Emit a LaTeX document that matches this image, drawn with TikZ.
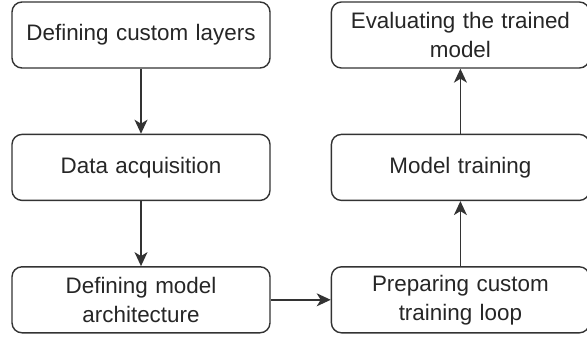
\documentclass[tikz,border=0pt]{standalone}
\usepackage{fontspec}
\setmainfont{Liberation Sans}
\usetikzlibrary{positioning, arrows.meta}

\definecolor{edge}{HTML}{333333}
\definecolor{ink}{HTML}{262626}

\begin{document}
\begin{tikzpicture}[
    font=\fontsize{11.2}{14.5}\selectfont,
    node distance=32.5pt and 30pt,
    step box/.style={rectangle, rounded corners=5pt, draw=edge, line width=0.7pt,
        fill=white, text=ink, minimum width=129pt, minimum height=33pt,
        text width=120pt, align=center, inner sep=3pt},
    flow/.style={draw=edge, line width=0.7pt,
        -{Stealth[length=7pt, width=6.5pt, inset=2pt]}},
]

\useasboundingbox (0,0) rectangle (293.5pt,-168.5pt);

\node[step box] (layers) at (70.5pt,-17.5pt) {Defining custom layers};
\node[step box, below=of layers] (data) {Data acquisition};
\node[step box, below=of data] (arch) {Defining model\\architecture};

\node[step box, right=of arch] (loop) {Preparing custom\\training loop};
\node[step box, above=of loop] (train) {Model training};
\node[step box, above=of train] (eval) {Evaluating the trained\\model};

% left column goes down, right column goes up
\draw[flow] (layers) -- (data);
\draw[flow] (data) -- (arch);
\draw[flow] (arch) -- (loop);
\draw[flow] (loop) -- (train);
\draw[flow] (train) -- (eval);

\end{tikzpicture}
\end{document}
